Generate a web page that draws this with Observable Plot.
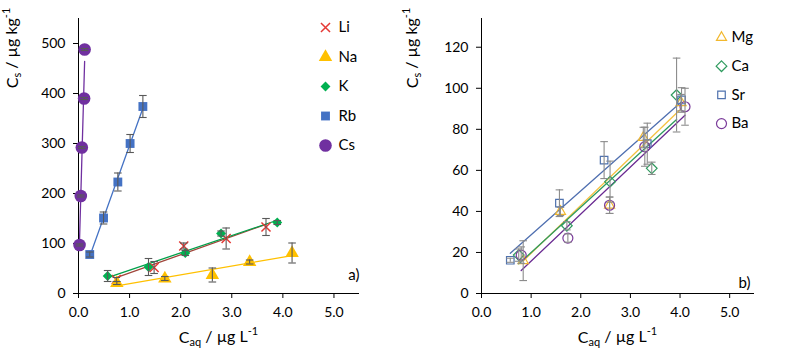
<!DOCTYPE html>
<html><head><meta charset="utf-8">
<script src="https://cdn.jsdelivr.net/npm/d3@7"></script>
<script src="https://cdn.jsdelivr.net/npm/@observablehq/plot@0.6"></script>
<style>
body{margin:0;background:#fff;}
#wrap{display:flex;width:792px;height:354px;}
</style></head>
<body><div id="wrap"></div>
<script>
// ---------- Panel a) data ----------
const namesA = ["Li","Na","K","Rb","Cs"];
const liX = [0.74,1.48,2.06,2.89,3.67], liY = [28,52,95,110,133], liE = [4,12,6,21,17];
const naX = [0.75,1.69,2.62,3.35,4.18], naY = [21,30,37,63,81], naE = [3,4,14,4,20];
const kX  = [0.57,1.37,2.09,2.79,3.89], kY  = [35,53,81,120,142], kE  = [11,17,5,5,4];
const rbX = [0.22,0.49,0.77,1.01,1.26], rbY = [78,151,223,300,374], rbE = [5,12,18,18,22];
const csX = [0.02,0.045,0.065,0.11,0.12], csY = [97,195,292,390,488], csE = [2,2,2,2,2];
const xTicks = [0,1,2,3,4,5];
const yTicksA = [0,100,200,300,400,500];

// ---------- Panel b) data ----------
const namesB = ["Mg","Ca","Sr","Ba"];
const mgX = [0.84,1.59,2.58,3.26,4.02], mgY = [16,40,43,76,93], mgE = [9.7,2,4,5,4];
const caX = [0.75,1.72,2.59,3.43,3.93], caY = [18.7,33,54.5,61,96.7], caE = [3,2,10,3,18];
const srX = [0.58,1.57,2.47,3.34,4.03], srY = [16.2,44,65,73,94.3], srE = [1,6.5,9,10,6];
const baX = [0.80,1.74,2.58,3.29,4.10], baY = [18.7,27,43,71.5,91], baE = [4,2,4,9.5,9];
const yTicksB = [0,20,40,60,80,100,120];

function rows(el, xs, ys, es){ return xs.map((x,i)=>({el, x, y:ys[i], e:es[i]})); }

const capSymbol = { draw(ctx, size){ const w = Math.sqrt(size/Math.PI); ctx.moveTo(-w,0); ctx.lineTo(w,0); } };
const diamondSymbol = { draw(ctx, size){ const h = Math.sqrt(size/Math.PI)*1.15; ctx.moveTo(0,-h); ctx.lineTo(h,0); ctx.lineTo(0,h); ctx.lineTo(-h,0); ctx.closePath(); } };

const seriesA = [
  {name:"Li", data:rows("Li",liX,liY,liE), symbol:"times", color:"#E53935", line:"#A0453A", fill:false, r:4.2, sw:1.5},
  {name:"Na", data:rows("Na",naX,naY,naE), symbol:"triangle", color:"#FFC000", line:"#FFC000", fill:true, r:5},
  {name:"K",  data:rows("K",kX,kY,kE),     symbol:diamondSymbol, color:"#00B050", line:"#00A04A", fill:true, r:4.3},
  {name:"Rb", data:rows("Rb",rbX,rbY,rbE), symbol:"square", color:"#4472C4", line:"#4472C4", fill:true, r:5},
  {name:"Cs", data:rows("Cs",csX,csY,csE), symbol:"circle", color:"#7030A0", line:"#7030A0", fill:true, r:6.3}
];
const seriesB = [
  {name:"Mg", data:rows("Mg",mgX,mgY,mgE), symbol:"triangle2", color:"#F2B82E", line:"#F5C242", fill:false, r:4.8, sw:1.2},
  {name:"Ca", data:rows("Ca",caX,caY,caE), symbol:"diamond2", color:"#2E9B5E", line:"#2E9B5E", fill:false, r:4.8, sw:1.2},
  {name:"Sr", data:rows("Sr",srX,srY,srE), symbol:"square2", color:"#4F72AE", line:"#4F6FB0", fill:false, r:4.8, sw:1.2},
  {name:"Ba", data:rows("Ba",baX,baY,baE), symbol:"circle", color:"#7A3A9A", line:"#6A2A92", fill:false, r:5, sw:1.2}
];

function dotOpts(s, extra){
  return Object.assign(s.fill
    ? {symbol:s.symbol, fill:s.color, stroke:"none", r:s.r}
    : {symbol:s.symbol, fill:"none", stroke:s.color, strokeWidth:s.sw, r:s.r}, extra);
}

function panel(series, opts){
  const all = series.flatMap(s=>s.data);
  const marks = [
    Plot.ruleX([0]), Plot.ruleY([0])
  ];
  for (const s of series) marks.push(Plot.linearRegressionY(s.data, {x:"x", y:"y", stroke:s.line, strokeWidth:1.3, ci:0}));
  for (const s of series) marks.push(Plot.dot(s.data, dotOpts(s, {x:"x", y:"y"})));
  marks.push(Plot.ruleX(all, {x:"x", y1:d=>d.y-d.e, y2:d=>d.y+d.e, stroke:opts.errColor, strokeWidth:1.1}));
  marks.push(Plot.dot(all, {x:"x", y:d=>d.y-d.e, symbol:capSymbol, r:3.8, stroke:opts.errColor, strokeWidth:1.1}));
  marks.push(Plot.dot(all, {x:"x", y:d=>d.y+d.e, symbol:capSymbol, r:3.8, stroke:opts.errColor, strokeWidth:1.1}));
  // legend
  series.forEach((s,i)=>{
    marks.push(Plot.dot([s.name], dotOpts(s, {frameAnchor:"top-left", dx:opts.legDx, dy:opts.legDy + i*opts.legStep})));
    marks.push(Plot.text([s.name], {text:d=>d, frameAnchor:"top-left", lineAnchor:"middle", dx:opts.legDx+opts.legGap, dy:opts.legDy + i*opts.legStep, textAnchor:"start", fontSize:15, fill:"black"}));
  });
  marks.push(Plot.text([opts.tag], {text:d=>d, frameAnchor:"bottom-right", lineAnchor:"middle", dx:opts.tagDx, dy:opts.tagDy, textAnchor:"end", fontSize:15, fill:"black"}));

  const svg = Plot.plot({
    width:396, height:354,
    marginLeft:opts.ml, marginRight:opts.mr, marginTop:18, marginBottom:61,
    style:{fontFamily:"Lato, 'Open Sans', sans-serif", fontSize:"14px", color:"black", background:"white", overflow:"visible"},
    x:{domain:[0,5.5], ticks:xTicks, tickFormat:d=>d.toFixed(1), label:null, tickSize:5, tickPadding:9},
    y:{domain:opts.yDomain, ticks:opts.yTicks, label:null, tickSize:5, tickPadding:8},
    marks
  });
  const s = d3.select(svg);
  // y label
  const yl = s.append("text").attr("transform",`translate(${opts.ylx},48) rotate(-90)`).attr("text-anchor","middle")
    .attr("font-size",16).attr("fill","black").attr("font-family","Lato, 'Open Sans', sans-serif");
  yl.append("tspan").text("C");
  yl.append("tspan").attr("font-size",11).attr("dy","0.3em").text("s");
  yl.append("tspan").attr("dy","-0.3em").text(" / µg kg");
  yl.append("tspan").attr("font-size",11).attr("dy","-0.55em").text("-1");
  // x label
  const xc = (opts.ml + 396 - opts.mr)/2;
  const xl = s.append("text").attr("x",xc).attr("y",343).attr("text-anchor","middle")
    .attr("font-size",16).attr("fill","black").attr("font-family","Lato, 'Open Sans', sans-serif");
  xl.append("tspan").text("C");
  xl.append("tspan").attr("font-size",11).attr("dy","0.3em").text("aq");
  xl.append("tspan").attr("dy","-0.3em").text(" / µg L");
  xl.append("tspan").attr("font-size",11).attr("dy","-0.55em").text("-1");
  return svg;
}

const wrap = document.getElementById("wrap");
wrap.append(panel(seriesA, {ml:78, mr:37, yDomain:[0,550], yTicks:yTicksA, errColor:"#595959",
  legDx:247, legDy:9, legStep:29.5, legGap:13, tag:"a)", tagDx:0, tagDy:-18, ylx:18}));
wrap.append(panel(seriesB, {ml:85, mr:38, yDomain:[0,134], yTicks:yTicksB, errColor:"#8c8c8c",
  legDx:240, legDy:19, legStep:28.7, legGap:10, tag:"b)", tagDx:-4, tagDy:-10, ylx:22}));
</script>
</body></html>
